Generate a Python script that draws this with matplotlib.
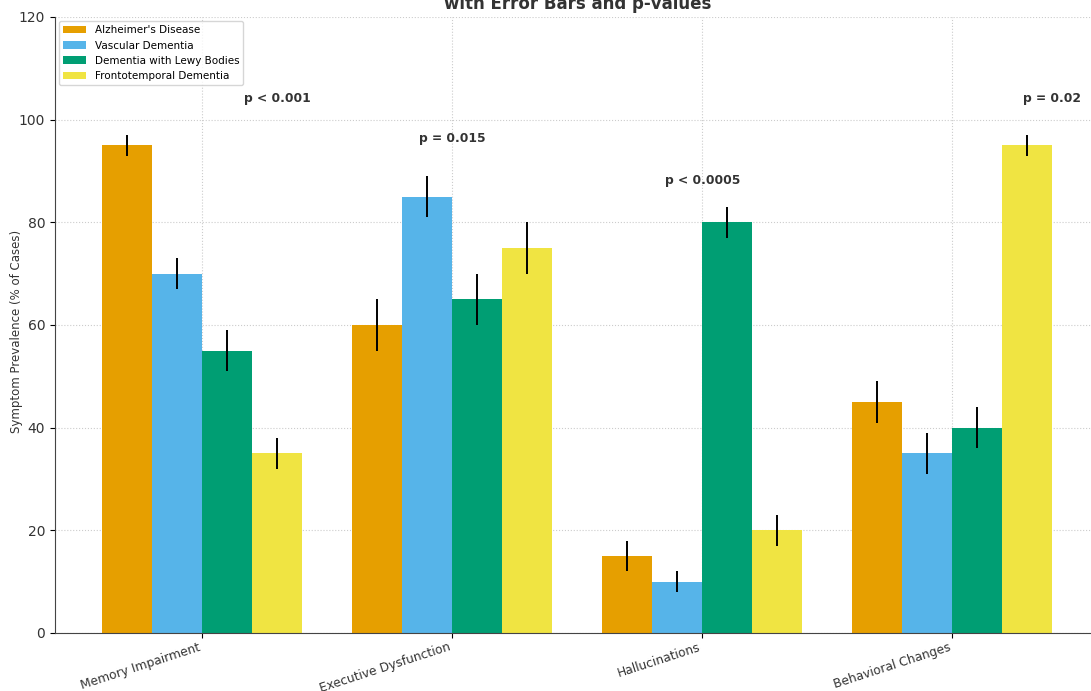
import numpy as np
import matplotlib.pyplot as plt

# Symptom prevalence (% of cases) by dementia type
symptoms = ['Memory Impairment', 'Executive Dysfunction', 'Hallucinations', 'Behavioral Changes']
dementia_types = ["Alzheimer's Disease", 'Vascular Dementia', 'Dementia with Lewy Bodies',
                  'Frontotemporal Dementia']

alzheimers = [95, 60, 15, 45]
vascular = [70, 85, 10, 35]
lewy_bodies = [55, 65, 80, 40]
frontotemporal = [35, 75, 20, 95]

alzheimers_err = [2, 5, 3, 4]
vascular_err = [3, 4, 2, 4]
lewy_bodies_err = [4, 5, 3, 4]
frontotemporal_err = [3, 5, 3, 2]

# p-value annotations: (x position, y position, text)
p_x = [0.3, 1.0, 2.0, 3.4]
p_y = [104.2, 96.4, 88.2, 104.2]
p_labels = ['p < 0.001', 'p = 0.015', 'p < 0.0005', 'p = 0.02']

colors = ['#E69F00', '#56B4E9', '#009E73', '#F0E442']

values = [alzheimers, vascular, lewy_bodies, frontotemporal]
errors = [alzheimers_err, vascular_err, lewy_bodies_err, frontotemporal_err]

fig = plt.figure(figsize=(10.91, 6.91), dpi=100)
ax = fig.add_axes([55 / 1091, 58 / 691, 1044.5 / 1091, 616 / 691])

x = np.arange(len(symptoms))
width = 0.2
for i, (vals, errs) in enumerate(zip(values, errors)):
    ax.bar(x + (i - 1.5) * width, vals, width, yerr=errs, color=colors[i],
           label=dementia_types[i], error_kw=dict(ecolor='black', elinewidth=1.4, capsize=0),
           zorder=2)

for px, py, txt in zip(p_x, p_y, p_labels):
    ax.text(px, py, txt, ha='center', va='center', fontsize=8.8, fontweight='bold',
            color='#333333')

ax.set_ylim(0, 120)
ax.set_xlim(-0.59, 3.59)
ax.set_xticks(x)
ax.set_xticklabels(symptoms, rotation=18, ha='right', fontsize=8.8, color='#333333')
ax.tick_params(axis='x', pad=2)
ax.tick_params(axis='y', labelsize=10, labelcolor='#333333')
ax.set_ylabel('Symptom Prevalence (% of Cases)', fontsize=8.5, color='#333333')
ax.yaxis.set_label_coords(-0.031, 0.49)
ax.set_title('Prevalence of Key Symptoms Across Dementia Types\nwith Error Bars and p-values',
             fontsize=12, fontweight='bold', color='#333333', pad=6)

ax.grid(True, linestyle=':', color='#cccccc', linewidth=0.8, zorder=0)
ax.set_axisbelow(True)
ax.spines['top'].set_visible(False)
ax.spines['right'].set_visible(False)
ax.spines['left'].set_color('#444444')
ax.spines['bottom'].set_color('#444444')

ax.legend(loc='upper left', fontsize=7.5, frameon=True, handlelength=2.2,
          borderaxespad=0.4)

fig.savefig('out.png', dpi=100)
